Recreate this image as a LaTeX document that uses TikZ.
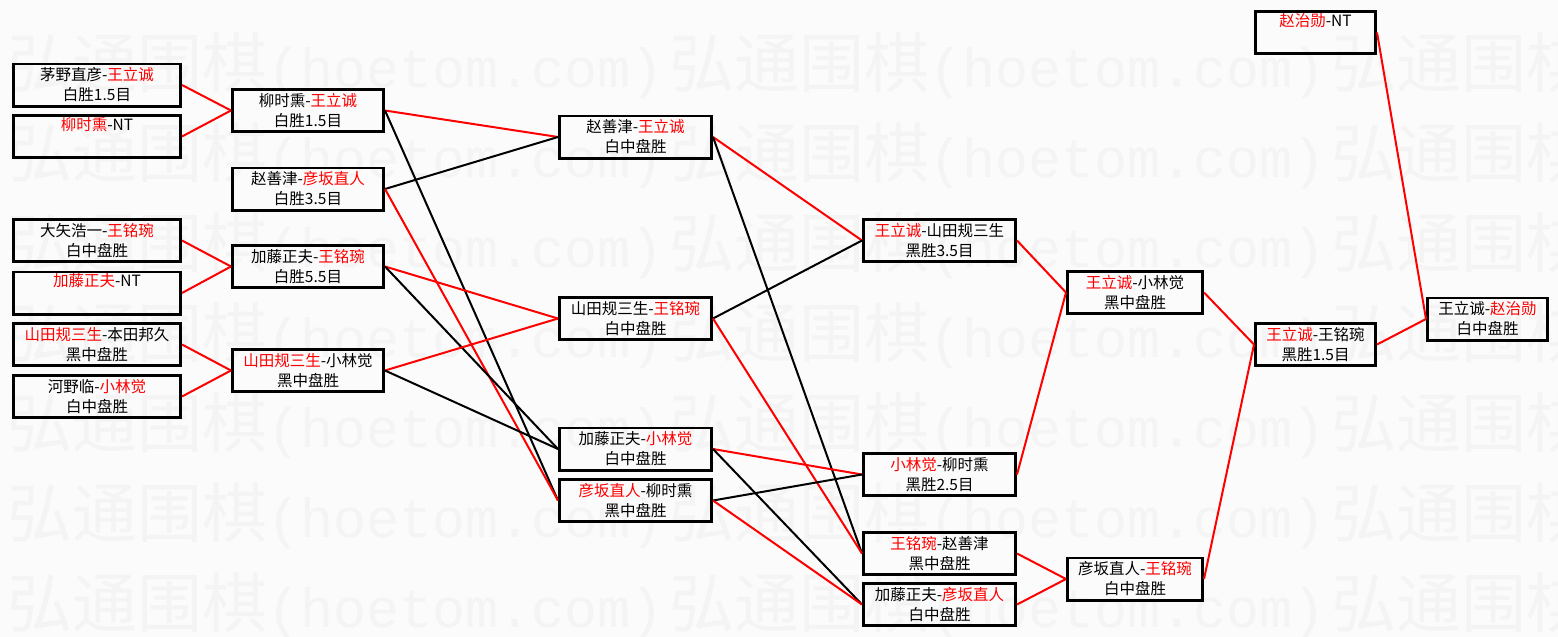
\documentclass[tikz,border=0pt]{standalone}
\usepackage{fontspec}
\setmainfont{Noto Sans CJK SC}
\newfontfamily\wmmono{Liberation Mono}
\usepackage{xcolor}
\usepackage{tikz}
\usetikzlibrary{positioning}

\newcommand{\winner}[1]{\textcolor{red}{#1}}

\begin{document}
\begin{tikzpicture}[
  x=1pt, y=-1pt,
  font=\fontsize{15.5}{20}\selectfont,
  game/.style={draw, line width=2.6pt, align=center, inner sep=0pt,
               minimum height=42.4pt},
  colA/.style={game, minimum width=167.4pt},
  colB/.style={game, minimum width=151.4pt},
  colC/.style={game, minimum width=152.4pt},
  colD/.style={game, minimum width=135.4pt},
  colE/.style={game, minimum width=120.4pt},
  wmark/.style={anchor=west, inner sep=0pt, text=black!4.5,
                font=\fontsize{65}{65}\selectfont},
  winline/.style={draw=red, line width=2pt},
  loseline/.style={draw=black, line width=2pt},
]
\useasboundingbox (0,0) rectangle (1558,637);
\fill[black!1.5] (0,0) rectangle (1558,637);

% watermark
\begin{scope}
\clip (0,0) rectangle (1558,637);
\foreach \k in {0,...,6}
  \foreach \j in {0,1,2}
    \node[wmark] (wm-\k-\j) at (7+662*\j, 66+90*\k)
      {弘通围棋{\wmmono\fontsize{55}{55}\selectfont(hoetom.com)}};
\end{scope}

% round 1
\node[colA] (r1a) at (97,85) {茅野直彦-\winner{王立诚}\\白胜1.5目};
\node[colA] (r1b) at (97,136.5) {\winner{柳时熏}-NT\\\strut};
\node[colA] (r1c) at (97,240.5) {大矢浩一-\winner{王铭琬}\\白中盘胜};
\node[colA] (r1d) at (97,293) {\winner{加藤正夫}-NT\\\strut};
\node[colA] (r1e) at (97,344.5) {\winner{山田规三生}-本田邦久\\黑中盘胜};
\node[colA] (r1f) at (97,396.5) {河野临-\winner{小林觉}\\白中盘胜};

% round 2
\node[colB] (r2a) at (308,110.5) {柳时熏-\winner{王立诚}\\白胜1.5目};
\node[colB] (r2b) at (308,189) {赵善津-\winner{彦坂直人}\\白胜3.5目};
\node[colB] (r2c) at (308,266.5) {加藤正夫-\winner{王铭琬}\\白胜5.5目};
\node[colB] (r2d) at (308,370.5) {\winner{山田规三生}-小林觉\\黑中盘胜};

% round 3
\node[colC] (r3a) at (635.5,137) {赵善津-\winner{王立诚}\\白中盘胜};
\node[colC] (r3b) at (635.5,318.5) {山田规三生-\winner{王铭琬}\\白中盘胜};
\node[colC] (r3c) at (635.5,449) {加藤正夫-\winner{小林觉}\\白中盘胜};
\node[colC] (r3d) at (635.5,500.5) {\winner{彦坂直人}-柳时熏\\黑中盘胜};

% round 4
\node[colC] (r4a) at (939.5,240.5) {\winner{王立诚}-山田规三生\\黑胜3.5目};
\node[colC] (r4b) at (939.5,474.5) {\winner{小林觉}-柳时熏\\黑胜2.5目};
\node[colC] (r4c) at (939.5,553.5) {\winner{王铭琬}-赵善津\\黑中盘胜};
\node[colC] (r4d) at (939.5,604.5) {加藤正夫-\winner{彦坂直人}\\白中盘胜};

% round 5
\node[colD] (r5a) at (1135,292.5) {\winner{王立诚}-小林觉\\黑中盘胜};
\node[colD] (r5b) at (1135,579) {彦坂直人-\winner{王铭琬}\\白中盘胜};

% round 6 and final
\node[colE] (r6a) at (1315.5,344.5) {\winner{王立诚}-王铭琬\\黑胜1.5目};
\node[colE] (seed) at (1315.5,32.5) {\winner{赵治勋}-NT\\\strut};
\node[colE] (final) at (1487.5,319) {王立诚-\winner{赵治勋}\\白中盘胜};

% connectors
\draw[winline] (r1a.east) -- (r2a.west);
\draw[winline] (r1b.east) -- (r2a.west);
\draw[winline] (r1c.east) -- (r2c.west);
\draw[winline] (r1d.east) -- (r2c.west);
\draw[winline] (r1e.east) -- (r2d.west);
\draw[winline] (r1f.east) -- (r2d.west);

\draw[winline] (r2a.east) -- (r3a.west);
\draw[loseline] (r2a.east) -- (r3d.west);
\draw[loseline] (r2b.east) -- (r3a.west);
\draw[winline] (r2b.east) -- (r3d.west);
\draw[winline] (r2c.east) -- (r3b.west);
\draw[loseline] (r2c.east) -- (r3c.west);
\draw[winline] (r2d.east) -- (r3b.west);
\draw[loseline] (r2d.east) -- (r3c.west);

\draw[winline] (r3a.east) -- (r4a.west);
\draw[loseline] (r3a.east) -- (r4c.west);
\draw[loseline] (r3b.east) -- (r4a.west);
\draw[winline] (r3b.east) -- (r4c.west);
\draw[winline] (r3c.east) -- (r4b.west);
\draw[loseline] (r3c.east) -- (r4d.west);
\draw[loseline] (r3d.east) -- (r4b.west);
\draw[winline] (r3d.east) -- (r4d.west);

\draw[winline] (r4a.east) -- (r5a.west);
\draw[winline] (r4b.east) -- (r5a.west);
\draw[winline] (r4c.east) -- (r5b.west);
\draw[winline] (r4d.east) -- (r5b.west);

\draw[winline] (r5a.east) -- (r6a.west);
\draw[winline] (r5b.east) -- (r6a.west);
\draw[winline] (r6a.east) -- (final.west);
\draw[winline] (seed.east) -- (final.west);
\end{tikzpicture}
\end{document}
